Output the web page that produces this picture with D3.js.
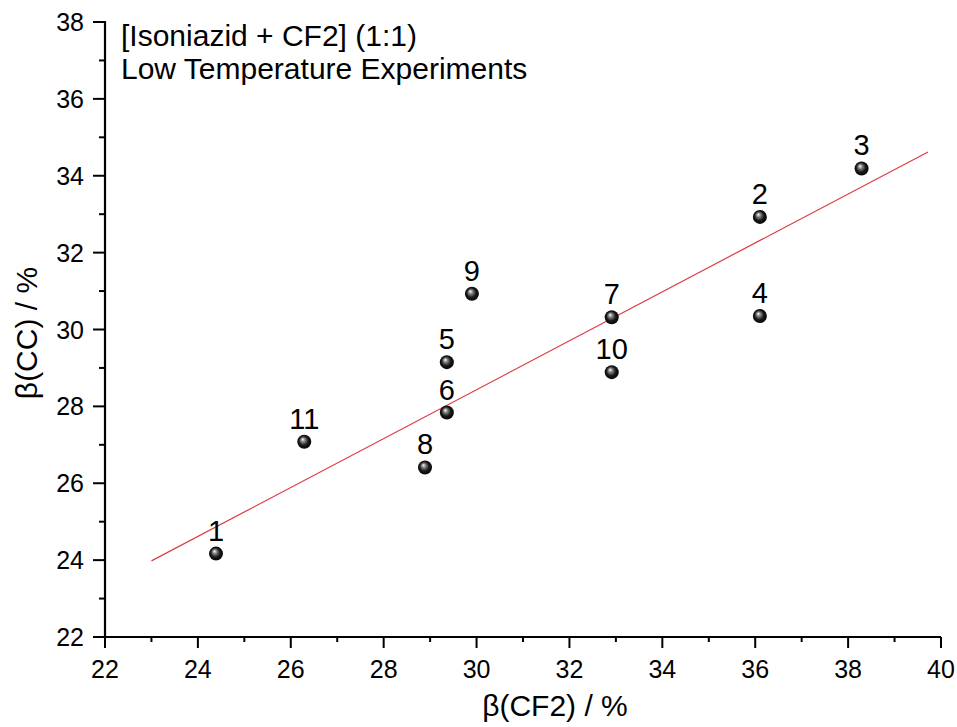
<!DOCTYPE html>
<html>
<head>
<meta charset="utf-8">
<script src="https://cdn.jsdelivr.net/npm/d3@7"></script>
<style>
  body { margin: 0; background: #fff; }
  svg text { font-family: "Liberation Sans", Arial, sans-serif; fill: #000; }
</style>
</head>
<body>
<div id="chart"></div>
<script>
// experiment number, beta(CF2) and beta(CC) in %
const pointLabels = ['1', '2', '3', '4', '5', '6', '7', '8', '9', '10', '11'];
const betaCF2 = [24.39, 36.1, 38.29, 36.1, 29.36, 29.36, 32.91, 28.89, 29.9, 32.91, 26.29];
const betaCC = [24.17, 32.93, 34.19, 30.35, 29.15, 27.84, 30.32, 26.41, 30.93, 28.89, 27.08];

// linear fit, read at its two ends
const fitX = [23.0, 39.72];
const fitY = [23.98, 34.62];

const xTicks = [22, 24, 26, 28, 30, 32, 34, 36, 38, 40];
const yTicks = [22, 24, 26, 28, 30, 32, 34, 36, 38];
const titleLines = ['[Isoniazid + CF2] (1:1)', 'Low Temperature Experiments'];

const width = 957;
const height = 727;
const margin = { top: 22, right: 16, bottom: 90, left: 105 };

const svg = d3.select('#chart')
  .append('svg')
  .attr('width', width)
  .attr('height', height);

const defs = svg.append('defs');
const ball = defs.append('radialGradient')
  .attr('id', 'ball')
  .attr('cx', '50%').attr('cy', '50%').attr('r', '55%')
  .attr('fx', '38%').attr('fy', '32%');
ball.append('stop').attr('offset', '0%').attr('stop-color', '#ffffff');
ball.append('stop').attr('offset', '25%').attr('stop-color', '#8a8a8a');
ball.append('stop').attr('offset', '60%').attr('stop-color', '#1a1a1a');
ball.append('stop').attr('offset', '100%').attr('stop-color', '#000000');

const x = d3.scaleLinear().domain([22, 40]).range([margin.left, width - margin.right]);
const y = d3.scaleLinear().domain([22, 38]).range([height - margin.bottom, margin.top]);

const x0 = x.range()[0];
const y0 = y.range()[0];

// minor ticks
const xMinor = d3.range(23, 40, 2);
const yMinor = d3.range(23, 38, 2);

const axisG = svg.append('g');

axisG.selectAll('line.xmaj').data(xTicks).join('line')
  .attr('x1', (d) => x(d)).attr('x2', (d) => x(d))
  .attr('y1', y0).attr('y2', y0 + 11)
  .attr('stroke', '#000').attr('stroke-width', 2);
axisG.selectAll('line.xmin').data(xMinor).join('line')
  .attr('x1', (d) => x(d)).attr('x2', (d) => x(d))
  .attr('y1', y0).attr('y2', y0 + 5)
  .attr('stroke', '#000').attr('stroke-width', 2);
axisG.selectAll('line.ymaj').data(yTicks).join('line')
  .attr('x1', x0 - 12).attr('x2', x0)
  .attr('y1', (d) => y(d)).attr('y2', (d) => y(d))
  .attr('stroke', '#000').attr('stroke-width', 2);
axisG.selectAll('line.ymin').data(yMinor).join('line')
  .attr('x1', x0 - 6).attr('x2', x0)
  .attr('y1', (d) => y(d)).attr('y2', (d) => y(d))
  .attr('stroke', '#000').attr('stroke-width', 2);

axisG.append('line')
  .attr('x1', x0).attr('x2', x.range()[1])
  .attr('y1', y0).attr('y2', y0)
  .attr('stroke', '#000').attr('stroke-width', 2.2);
axisG.append('line')
  .attr('x1', x0).attr('x2', x0)
  .attr('y1', y0 + 1).attr('y2', y.range()[1] - 1)
  .attr('stroke', '#000').attr('stroke-width', 2.2);

axisG.selectAll('text.xt').data(xTicks).join('text')
  .attr('x', (d) => x(d)).attr('y', y0 + 41)
  .attr('text-anchor', 'middle')
  .attr('font-size', 25)
  .text((d) => d);
axisG.selectAll('text.yt').data(yTicks).join('text')
  .attr('x', x0 - 21).attr('y', (d) => y(d) + 9)
  .attr('text-anchor', 'end')
  .attr('font-size', 25)
  .text((d) => d);

svg.append('text')
  .attr('x', 555).attr('y', 716)
  .attr('text-anchor', 'middle')
  .attr('font-size', 30)
  .text('β(CF2) / %');
svg.append('text')
  .attr('transform', 'translate(37,333) rotate(-90)')
  .attr('text-anchor', 'middle')
  .attr('font-size', 30)
  .text('β(CC) / %');

svg.selectAll('text.title').data(titleLines).join('text')
  .attr('x', 121).attr('y', (d, i) => 46 + i * 33)
  .attr('font-size', 30)
  .text((d) => d);

// fit line
svg.append('line')
  .attr('x1', x(fitX[0])).attr('y1', y(fitY[0]))
  .attr('x2', x(fitX[1])).attr('y2', y(fitY[1]))
  .attr('stroke', '#dd3c44').attr('stroke-width', 1.2);

const pts = pointLabels.map((label, i) => ({ label, cf2: betaCF2[i], cc: betaCC[i] }));

svg.append('g').selectAll('circle').data(pts).join('circle')
  .attr('cx', (d) => x(d.cf2)).attr('cy', (d) => y(d.cc))
  .attr('r', 7)
  .attr('fill', 'url(#ball)');

svg.append('g').selectAll('text').data(pts).join('text')
  .attr('x', (d) => x(d.cf2)).attr('y', (d) => y(d.cc) - 13)
  .attr('text-anchor', 'middle')
  .attr('font-size', 29)
  .text((d) => d.label);
</script>
</body>
</html>
